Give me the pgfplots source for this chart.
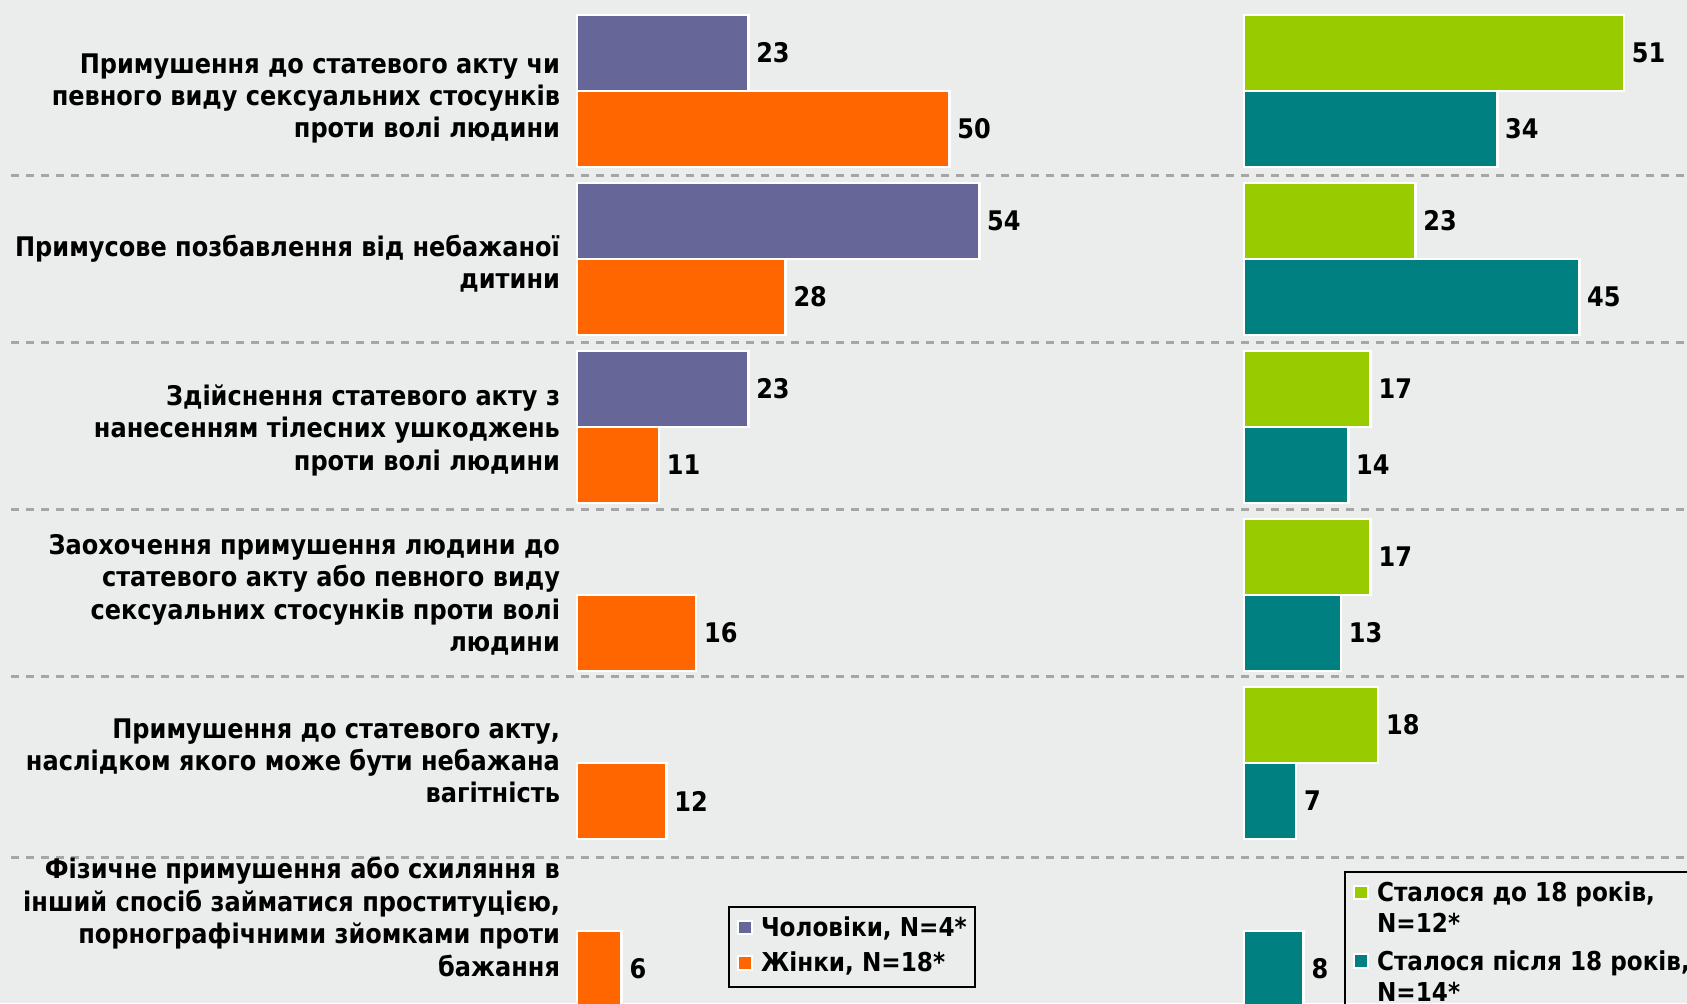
\documentclass[border=0pt]{standalone}
\usepackage{pgfplots}
\pgfplotsset{compat=1.18}
\usepackage{fontspec}
\setmainfont{DejaVu Sans}[FakeStretch=0.89]
\definecolor{bg}{RGB}{235,237,236}
\definecolor{men}{RGB}{102,102,153}
\definecolor{women}{RGB}{255,102,0}
\definecolor{before}{RGB}{153,204,0}
\definecolor{after}{RGB}{0,128,128}
\definecolor{sepc}{RGB}{166,166,166}
\newcommand\ff{\fontsize{13.5}{16.2}\selectfont\bfseries}
\newcommand\lf{\fontsize{13}{15.6}\selectfont\bfseries}
\newcommand\st{\rule[-3.2pt]{0pt}{13.7pt}}
\newcommand\stb{\rule[-3.2pt]{0pt}{16.6pt}}
\pgfplotsset{
  mybars/.style={
    xbar, bar width=38pt, scale only axis, height=501.5pt,
    ymin=0.5715, ymax=6.5417, xmin=-1.342,
    axis line style={draw=none}, xtick=\empty, major tick length=0pt,
    nodes near coords,
    every node near coord/.append style={font=\ff, anchor=west, text=black},
    /pgf/number format/assume math mode=true,
    tick label style={font=\ff},
    legend cell align=left,
  },
  mylegend/.style={draw=black, line width=0.9pt, fill=none, font=\lf,
    inner xsep=4.25pt, inner ysep=4.25pt, column sep=0pt,
    cells={anchor=base west},
    nodes={inner sep=0pt, text depth=3.2pt, anchor=base west}},
  sq/.style={draw=white, line width=1.25pt, fill=#1,
    legend image code/.code={\draw[draw=white, line width=1pt, fill=#1] (0pt,1.2pt) rectangle (6.75pt,7.95pt); \path (10.7pt,0pt);}},
}
\begin{document}
\begin{tikzpicture}
\fill[bg] (0,0) rectangle (843.5pt,501.5pt);
\foreach \p in {176,343,509,676,857}{
  \draw[sepc, line width=1.5pt, dash pattern=on 4pt off 3.5pt] (5.5pt,{(1003-\p)*0.5pt}) -- (843.5pt,{(1003-\p)*0.5pt});
}
\begin{axis}[mybars, at={(283.5pt,0pt)}, anchor=south west, width=336.5pt, xmax=88.993,
  ytick={1.0833,2.013,3,3.981,4.974,5.955},
  yticklabels={
    {Фізичне примушення або схиляння в\\інший спосіб займатися проституцією,\\порнографічними зйомками проти\\бажання},
    {Примушення до статевого акту,\\наслідком якого може бути небажана\\вагітність},
    {Заохочення примушення людини до\\статевого акту або певного виду\\сексуальних стосунків проти волі\\людини},
    {Здійснення статевого акту з\\нанесенням тілесних ушкоджень\\проти волі людини},
    {Примусове позбавлення від небажаної\\дитини},
    {Примушення до статевого акту чи\\певного виду сексуальних стосунків\\проти волі людини}},
  yticklabel style={align=right, font=\ff},
  legend style={mylegend, at={(axis description cs:0.2392,0.0967)}, anchor=north west, row sep=4.05pt},
]
\addplot[sq=men, bar shift=19pt] coordinates {(23,6) (54,5) (23,4)};
\addlegendentry{\st Чоловіки, N=4*}
\addplot[sq=women, bar shift=-19pt] coordinates {(50,6) (28,5) (11,4) (16,3) (12,2) (6,1)};
\addlegendentry{\st Жінки, N=18*}
\end{axis}
\begin{axis}[mybars, at={(617pt,0pt)}, anchor=south west, width=226.5pt, xmax=59.463,
  ytick=\empty,
  legend style={mylegend, at={(axis description cs:0.2428,0.1316)}, anchor=north west, row sep=2.05pt},
]
\addplot[sq=before, bar shift=19pt] coordinates {(51,6) (23,5) (17,4) (17,3) (18,2)};
\addlegendentry{\st Сталося до 18 років,}
\addlegendimage{empty legend}
\addlegendentry{\st N=12*}
\addplot[sq=after, bar shift=-19pt] coordinates {(34,6) (45,5) (14,4) (13,3) (7,2) (8,1)};
\addlegendentry{\stb Сталося після 18 років,\hspace*{12pt}}
\addlegendimage{empty legend}
\addlegendentry{\st N=14*}
\end{axis}
\pgfresetboundingbox
\path[use as bounding box] (0,0) rectangle (843.5pt,501.5pt);
\end{tikzpicture}
\end{document}
